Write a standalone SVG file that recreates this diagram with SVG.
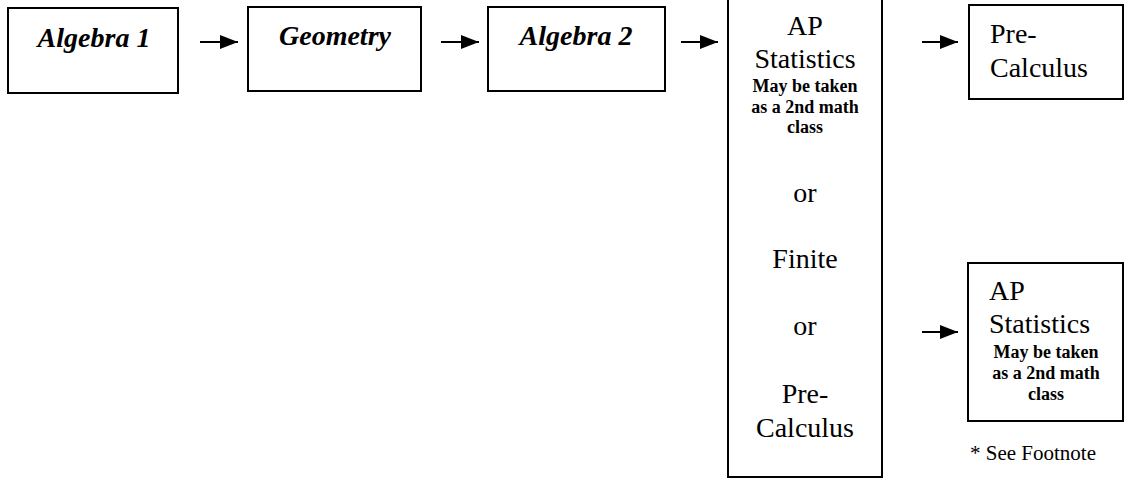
<svg xmlns="http://www.w3.org/2000/svg" width="1128" height="487" viewBox="0 0 1128 487">
<style>
.box{fill:#fff;stroke:#000;stroke-width:2}
.bi{font-family:"Liberation Serif","Times New Roman",serif;font-weight:bold;font-style:italic;font-size:28px;text-anchor:middle}
.r{font-family:"Liberation Serif","Times New Roman",serif;font-size:28px}
.rc{font-family:"Liberation Serif","Times New Roman",serif;font-size:28px;text-anchor:middle}
.b{font-family:"Liberation Serif","Times New Roman",serif;font-weight:bold;font-size:18px;text-anchor:middle}
.fn{font-family:"Liberation Serif","Times New Roman",serif;font-size:21px}
.arr{stroke:#000;stroke-width:2;fill:none}
</style>
<defs>
<marker id="ah" markerWidth="18" markerHeight="14" refX="18" refY="7" orient="auto" markerUnits="userSpaceOnUse">
<path d="M0,0 L18,7 L0,14 Z" fill="#000"/>
</marker>
</defs>
<rect width="1128" height="487" fill="#fff"/>
<g id="connectors">
<line class="arr" x1="200" y1="42" x2="238" y2="42" marker-end="url(#ah)"/>
<line class="arr" x1="441" y1="42" x2="479" y2="42" marker-end="url(#ah)"/>
<line class="arr" x1="681" y1="42" x2="718" y2="42" marker-end="url(#ah)"/>
<line class="arr" x1="922" y1="42" x2="958" y2="42" marker-end="url(#ah)"/>
<line class="arr" x1="922" y1="332" x2="958" y2="332" marker-end="url(#ah)"/>
</g>
<g id="algebra1">
<rect class="box" x="8" y="8" width="170" height="85"/>
<text class="bi" x="94" y="47">Algebra 1</text>
</g>
<g id="geometry">
<rect class="box" x="248" y="7" width="173" height="84"/>
<text class="bi" x="335" y="45">Geometry</text>
</g>
<g id="algebra2">
<rect class="box" x="488" y="7" width="177" height="84"/>
<text class="bi" x="576" y="45">Algebra 2</text>
</g>
<g id="options">
<rect class="box" x="728" y="-5" width="154" height="482"/>
<text class="rc" x="805" y="35">AP</text>
<text class="rc" x="805" y="68">Statistics</text>
<text class="b" x="805" y="92">May be taken</text>
<text class="b" x="805" y="113">as a 2nd math</text>
<text class="b" x="805" y="133">class</text>
<text class="rc" x="805" y="202">or</text>
<text class="rc" x="805" y="268">Finite</text>
<text class="rc" x="805" y="335">or</text>
<text class="rc" x="805" y="403">Pre-</text>
<text class="rc" x="805" y="437">Calculus</text>
</g>
<g id="precalculus">
<rect class="box" x="969" y="5" width="154" height="94"/>
<text class="r" x="990" y="43">Pre-</text>
<text class="r" x="990" y="77">Calculus</text>
</g>
<g id="apstats">
<rect class="box" x="968" y="263" width="155" height="158"/>
<text class="r" x="989" y="300">AP</text>
<text class="r" x="989" y="333">Statistics</text>
<text class="b" x="1046" y="358">May be taken</text>
<text class="b" x="1046" y="379">as a 2nd math</text>
<text class="b" x="1046" y="400">class</text>
</g>
<text class="fn" x="970" y="460">* See Footnote</text>
</svg>
